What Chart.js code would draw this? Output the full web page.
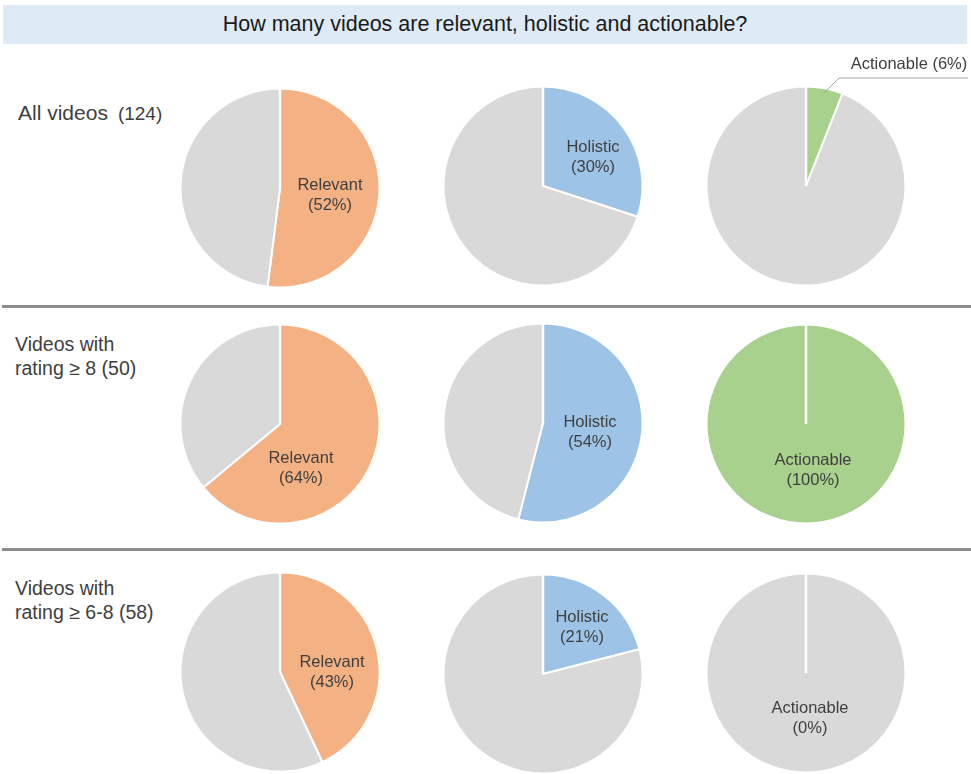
<!DOCTYPE html>
<html>
<head>
<meta charset="utf-8">
<script src="https://cdn.jsdelivr.net/npm/chart.js@4.4.1/dist/chart.umd.min.js"></script>
<style>
html,body{margin:0;padding:0;background:#fff;overflow:hidden;}
#stage{position:relative;width:971px;height:774px;overflow:hidden;font-family:"Liberation Sans",Arial,sans-serif;}
#title{position:absolute;left:3px;top:5px;width:964px;height:39px;background:#deebf7;color:#1a1a1a;
  font-size:21.5px;line-height:39px;text-align:center;}
.sep{position:absolute;left:2px;width:969px;height:3px;background:#8c8c8c;}
.rowlab{position:absolute;color:#404040;white-space:nowrap;}
canvas.pie{position:absolute;}
</style>
</head>
<body>
<div id="stage">
  <div id="title">How many videos are relevant, holistic and actionable?</div>
</div>
<script>
// ---------- DATA ----------
const rowLabelLines = [["All videos"], ["Videos with", "rating \u2265 8"], ["Videos with", "rating \u2265 6-8"]];
const rowCounts = [124, 50, 58];
const metricNames = ["Relevant", "Holistic", "Actionable"];
const relevantPct = [52, 64, 43];
const holisticPct = [30, 54, 21];
const actionablePct = [6, 100, 0];

// ---------- STYLE / LAYOUT ----------
const metricColors = ["#f4b183", "#9dc3e6", "#a9d18e"];
const restColor = "#d9d9d9";
const colX = [280, 543, 806];
const rowY = [[188, 186, 186], [424, 423, 424], [672, 674, 673]];
// label anchor nudges relative to pie centre (dx, dy)
const labelNudge = [
  [[50, 7], [50, -29], null],
  [[21, 44], [47, 9], [7, 46]],
  [[52, 0], [39, -47], [4, 45]]
];
const outsideLabel = [[false, false, true], [false, false, false], [false, false, false]];
const CW = 340, CH = 280, RADIUS = 99.5;

const stage = document.getElementById('stage');

// separators
[306, 549].forEach(y => {
  const d = document.createElement('div');
  d.className = 'sep'; d.style.top = (y - 1) + 'px';
  stage.appendChild(d);
});

// row labels
(function () {
  const r0 = document.createElement('div');
  r0.className = 'rowlab';
  r0.style.left = '18px'; r0.style.top = '101px';
  r0.style.lineHeight = '24px';
  r0.innerHTML = '<span style="font-size:21px">' + rowLabelLines[0][0] + '</span>' +
    '<span style="font-size:19px;margin-left:10px">(' + rowCounts[0] + ')</span>';
  stage.appendChild(r0);
  const tops = [null, 333, 577];
  for (let i = 1; i < 3; i++) {
    const d = document.createElement('div');
    d.className = 'rowlab';
    d.style.left = '15px'; d.style.top = tops[i] + 'px';
    d.style.fontSize = '19.5px'; d.style.lineHeight = '23.5px';
    d.innerHTML = rowLabelLines[i][0] + '<br>' + rowLabelLines[i][1] + ' (' + rowCounts[i] + ')';
    stage.appendChild(d);
  }
})();

const pieDeco = {
  id: 'pieDeco',
  afterDatasetsDraw(chart, args, opts) {
    const ctx = chart.ctx;
    const arc = chart.getDatasetMeta(0).data[0];
    const cx = arc.x, cy = arc.y, r = arc.outerRadius;
    ctx.save();
    // white seam at the start angle (also shown for 0% / 100%)
    ctx.strokeStyle = '#ffffff';
    ctx.lineWidth = 2.5;
    ctx.beginPath();
    ctx.moveTo(cx, cy);
    ctx.lineTo(cx + r * Math.cos(arc.startAngle), cy + r * Math.sin(arc.startAngle));
    ctx.stroke();
    ctx.fillStyle = '#404040';
    ctx.font = '16.5px "Liberation Sans", Arial, sans-serif';
    ctx.textAlign = 'center';
    ctx.textBaseline = 'middle';
    if (opts.outside) {
      const mid = (arc.startAngle + arc.endAngle) / 2;
      const x0 = cx + (r - 5) * Math.cos(mid), y0 = cy + (r - 5) * Math.sin(mid);
      ctx.strokeStyle = '#a6a6a6';
      ctx.lineWidth = 1;
      ctx.beginPath();
      ctx.moveTo(x0, y0);
      ctx.lineTo(cx + 33, cy - 108);
      ctx.lineTo(cx + 162, cy - 108);
      ctx.stroke();
      ctx.fillText(opts.name + ' (' + opts.value + '%)', cx + 103, cy - 122);
    } else {
      const lx = cx + opts.dx, ly = cy + opts.dy;
      ctx.fillText(opts.name, lx, ly - 10);
      ctx.fillText('(' + opts.value + '%)', lx, ly + 10);
    }
    ctx.restore();
  }
};

const seriesByMetric = [relevantPct, holisticPct, actionablePct];
for (let r = 0; r < 3; r++) {
  for (let c = 0; c < 3; c++) {
    const v = seriesByMetric[c][r];
    const cv = document.createElement('canvas');
    cv.className = 'pie';
    cv.width = CW; cv.height = CH;
    cv.style.width = CW + 'px'; cv.style.height = CH + 'px';
    cv.style.left = (colX[c] - CW / 2) + 'px';
    cv.style.top = (rowY[r][c] - CH / 2) + 'px';
    stage.appendChild(cv);
    const nudge = labelNudge[r][c] || [0, 0];
    new Chart(cv, {
      type: 'pie',
      data: {
        labels: [metricNames[c], 'Other'],
        datasets: [{
          data: [v, 100 - v],
          backgroundColor: [metricColors[c], restColor],
          borderColor: '#ffffff',
          borderWidth: 2,
          radius: RADIUS
        }]
      },
      options: {
        responsive: false,
        animation: false,
        devicePixelRatio: 1,
        events: [],
        layout: { padding: 0 },
        plugins: {
          legend: { display: false },
          tooltip: { enabled: false },
          pieDeco: { name: metricNames[c], value: v, dx: nudge[0], dy: nudge[1], outside: outsideLabel[r][c] }
        }
      },
      plugins: [pieDeco]
    });
  }
}
</script>
</body>
</html>
